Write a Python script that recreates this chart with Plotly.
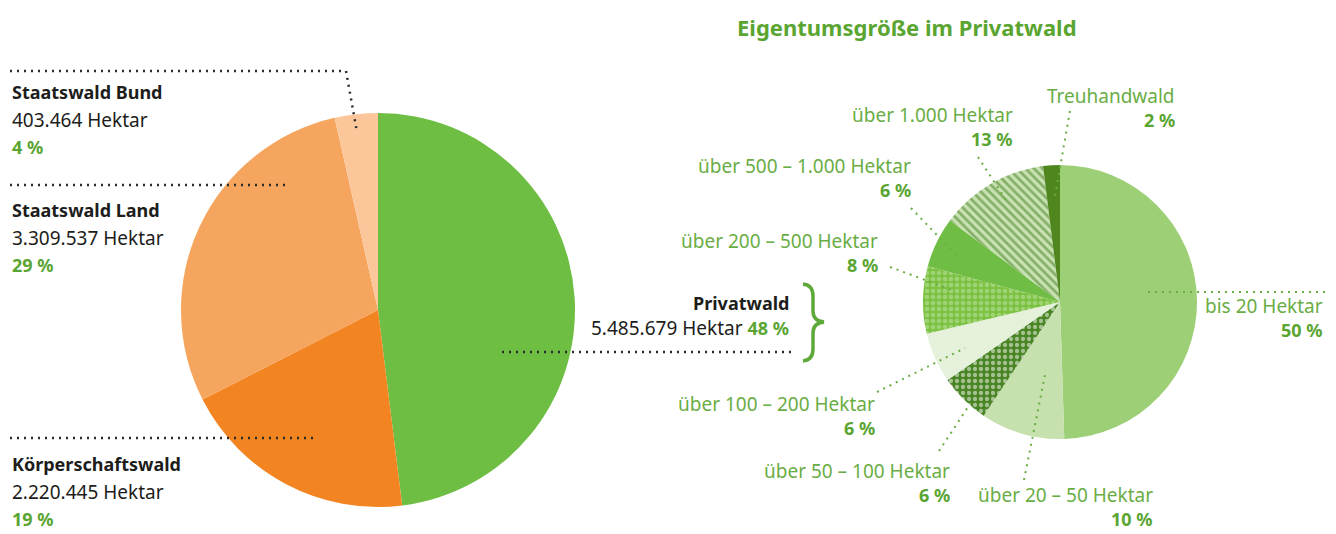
import plotly.graph_objects as go

W, H = 1336, 534

# ---- data ----
left_labels = ["Privatwald", "Körperschaftswald", "Staatswald Land", "Staatswald Bund"]
left_hectare = [5485679, 2220445, 3309537, 403464]
left_hectare_text = ["5.485.679", "2.220.445", "3.309.537", "403.464"]
left_pct = [48, 19, 29, 4]
left_colors = ["#6fbe44", "#f28422", "#f5a55d", "#fbc79a"]

right_labels = ["bis 20 Hektar", "über 20 – 50 Hektar", "über 50 – 100 Hektar",
                "über 100 – 200 Hektar", "über 200 – 500 Hektar",
                "über 500 – 1.000 Hektar", "über 1.000 Hektar", "Treuhandwald"]
right_pct = [50, 10, 6, 6, 8, 6, 13, 2]
right_colors = ["#9dcf76", "#c6e0ae", "#4a8524", "#e6f1dc", "#7cc242", "#70bd45", "#c9e2b2", "#4f861d"]
right_shapes = ["", "", ".", "", ".", "", "\\", ""]
right_fg = ["#ffffff", "#ffffff", "#ffffff", "#ffffff", "#c2e3a3", "#ffffff", "#3f7a1e", "#ffffff"]
right_size = [6, 6, 6, 6, 6, 6, 6, 6]
right_solid = [0.3, 0.3, 0.4, 0.3, 0.45, 0.3, 0.45, 0.3]

title = "Eigentumsgröße im Privatwald"

FONT = "Noto Sans"
DARK = "#1d1d1b"
GREEN_T = "#6aad45"
GREEN_B = "#5aa532"


def px(x):
    return x / W


def py(y):
    return 1 - y / H


fig = go.Figure()

fig.add_trace(go.Pie(
    labels=left_labels, values=left_hectare, sort=False, direction="clockwise",
    rotation=0, textinfo="none", hoverinfo="label+percent",
    marker=dict(colors=left_colors, line=dict(width=0)),
    domain=dict(x=[px(181), px(575)], y=[py(507), py(113)]),
    showlegend=False,
))

fig.add_trace(go.Pie(
    labels=right_labels, values=right_pct, sort=False, direction="clockwise",
    rotation=0, textinfo="none", hoverinfo="label+percent",
    marker=dict(colors=right_colors, line=dict(width=0),
                pattern=dict(shape=right_shapes, fgcolor=right_fg,
                             size=right_size, solidity=right_solid,
                             fillmode="overlay")),
    domain=dict(x=[px(923), px(1197)], y=[py(439), py(165)]),
    showlegend=False,
))

ann = []


def text(x, y, s, color, size=19, bold=False, anchor="left"):
    if bold:
        s = "<b>" + s + "</b>"
    ann.append(dict(x=px(x), y=py(y), xref="paper", yref="paper", text=s,
                    showarrow=False, xanchor=anchor, yanchor="middle",
                    font=dict(family=FONT, size=size, color=color)))


# title
text(907, 27, title, GREEN_B, size=22, bold=True, anchor="center")

# left labels
left_pos = {"Staatswald Bund": 92, "Staatswald Land": 210, "Körperschaftswald": 464}
for name, y0 in left_pos.items():
    i = left_labels.index(name)
    text(10, y0, name, DARK, size=18, bold=True)
    text(10, y0 + 28, left_hectare_text[i] + " Hektar", DARK)
    text(10, y0 + 55, f"{left_pct[i]} %", GREEN_B, size=18, bold=True)

i = left_labels.index("Privatwald")
text(791, 303, "Privatwald", DARK, size=18, bold=True, anchor="right")
text(791, 328, left_hectare_text[i] + " Hektar "
     + f"<b><span style='color:{GREEN_B};font-size:18px'>{left_pct[i]} %</span></b>", DARK, anchor="right")

# right labels: (name, right x, title y)
right_pos = {
    "Treuhandwald": (1177, 96),
    "über 1.000 Hektar": (1015, 115),
    "über 500 – 1.000 Hektar": (913, 166),
    "über 200 – 500 Hektar": (880, 241),
    "bis 20 Hektar": (1325, 306),
    "über 100 – 200 Hektar": (877, 404),
    "über 50 – 100 Hektar": (952, 471),
    "über 20 – 50 Hektar": (1155, 495),
}
for name, (xr, y0) in right_pos.items():
    j = right_labels.index(name)
    text(xr, y0, name, GREEN_T, anchor="right")
    text(xr, y0 + 24, f"{right_pct[j]} %", GREEN_B, size=18, bold=True, anchor="right")

shapes = []


def line(x0, y0, x1, y1, color, dash, width):
    shapes.append(dict(type="line", xref="paper", yref="paper",
                       x0=px(x0), y0=py(y0), x1=px(x1), y1=py(y1),
                       line=dict(color=color, width=width, dash=dash)))


DK = "#2b2b2b"
line(10, 71, 346, 71, DK, "2px,5px", 2.5)
line(346, 71, 357, 132, DK, "2px,5px", 2.5)
line(10, 185, 290, 185, DK, "2px,5px", 2.5)
line(10, 438, 317, 438, DK, "2px,5px", 2.5)
line(502, 352, 796, 352, DK, "2px,5px", 2.5)

GL = "#6aad45"
gd = "2px,5px"
line(1070, 111, 1055, 196, GL, gd, 2)
line(978, 157, 1008, 203, GL, gd, 2)
line(911, 208, 957, 256, GL, gd, 2)
line(890, 267, 952, 290, GL, gd, 2)
line(1148, 292, 1325, 292, GL, gd, 2)
line(877, 392, 965, 348, GL, gd, 2)
line(939, 451, 968, 407, GL, gd, 2)
line(1024, 480, 1046, 370, GL, gd, 2)

# curly brace
def P(x, y):
    return f"{px(x):.5f},{py(y):.5f}"

brace = (f"M {P(803,284)} Q {P(813,285)} {P(813,296)} L {P(813,311)} "
         f"Q {P(813,321)} {P(824,322)} Q {P(813,323)} {P(813,333)} "
         f"L {P(813,349)} Q {P(813,360)} {P(803,361)}")
shapes.append(dict(type="path", xref="paper", yref="paper", path=brace,
                   line=dict(color="#5fa83a", width=3.5)))

fig.update_layout(
    width=W, height=H, margin=dict(l=0, r=0, t=0, b=0),
    paper_bgcolor="white", plot_bgcolor="white",
    annotations=ann, shapes=shapes,
)

fig.write_html("out.html", config={"displayModeBar": False},
               post_script="document.body.style.margin='0';document.body.style.overflow='hidden';")
